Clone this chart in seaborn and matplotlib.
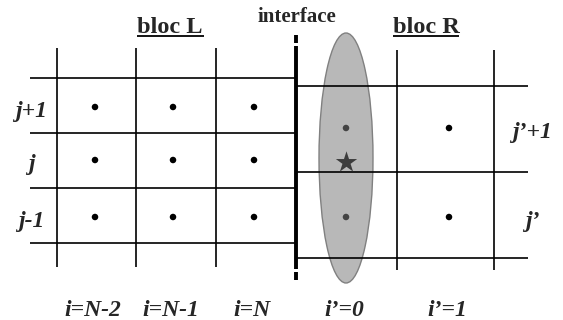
import matplotlib
matplotlib.use('Agg')
import matplotlib.pyplot as plt
from matplotlib.patches import Ellipse
import pandas as pd
import seaborn as sns

sns.set_style('white')
plt.rcParams['font.family'] = ['Liberation Serif', 'DejaVu Serif']

# grid of bloc L (pixel space of the reference)
left_cols = [57, 136, 216]
left_rows = [78, 133, 188, 243]
left_cell_x = [95, 173, 254]
left_cell_y = [107, 160, 217]
left_col_labels = ['i=N-2', 'i=N-1', 'i=N']
left_row_labels = ['j+1', 'j', 'j-1']

# grid of bloc R
right_cols = [397, 494]
right_rows = [86, 172, 258]
right_cell_x = [346, 449]
right_cell_y = [128, 217]
right_col_labels = ["i\u2019=0", "i\u2019=1"]
right_row_labels = ["j\u2019+1", "j\u2019"]

interface_x = 296
interface_segments = [(35, 43), (46, 269), (272, 280)]

fig = plt.figure(figsize=(5.63, 3.2), dpi=100)
ax = fig.add_axes([0, 0, 1, 1])
ax.set_xlim(0, 563)
ax.set_ylim(320, 0)
ax.axis('off')

# stencil ellipse across the interface
ax.add_patch(Ellipse((346, 158), 54, 250, facecolor='#b8b8b8',
                     edgecolor='#808080', lw=1.0, zorder=1))

# grid lines
ax.hlines(left_rows, 30, interface_x, color='black', lw=1.2, zorder=2)
ax.vlines(left_cols, 48, 267, color='black', lw=1.2, zorder=2)
ax.hlines(right_rows, interface_x, 528, color='black', lw=1.2, zorder=2)
ax.vlines(right_cols, 50, 270, color='black', lw=1.2, zorder=2)
for y0, y1 in interface_segments:
    ax.vlines(interface_x, y0, y1, color='black', lw=2.8, zorder=3)

# cell centres
pts = pd.DataFrame(
    [(x, y, 'L') for x in left_cell_x for y in left_cell_y] +
    [(x, y, 'R0' if x == right_cell_x[0] else 'R') for x in right_cell_x for y in right_cell_y],
    columns=['x', 'y', 'bloc'])
sns.scatterplot(data=pts, x='x', y='y', hue='bloc',
                palette={'L': 'black', 'R': 'black', 'R0': '#444444'},
                s=22, linewidth=0, legend=False, ax=ax, zorder=4)
ax.scatter([346], [162], marker='*', s=260, color='#3c3c3c', linewidth=0, zorder=5)

lab = dict(fontsize=17, fontweight='bold', fontstyle='italic', ha='center', va='baseline')
for x, t in zip(left_cell_x + right_cell_x, left_col_labels + right_col_labels):
    ax.text(x - 2, 316, t, **lab)
for y, t in zip(left_cell_y, left_row_labels):
    ax.text(31, y + 10, t, **lab)
for y, t in zip(right_cell_y, right_row_labels):
    ax.text(532, y + 10, t, **lab)

ax.text(170, 33, 'bloc L', fontsize=17.5, fontweight='bold', ha='center', va='baseline')
ax.text(426, 33, 'bloc R', fontsize=17.5, fontweight='bold', ha='center', va='baseline')
ax.hlines([36, 36], [137, 393], [204, 459], color='black', lw=1.3)
ax.text(297, 22, 'interface', fontsize=15, fontweight='bold', ha='center', va='baseline')

fig.savefig('out.png', dpi=100)
